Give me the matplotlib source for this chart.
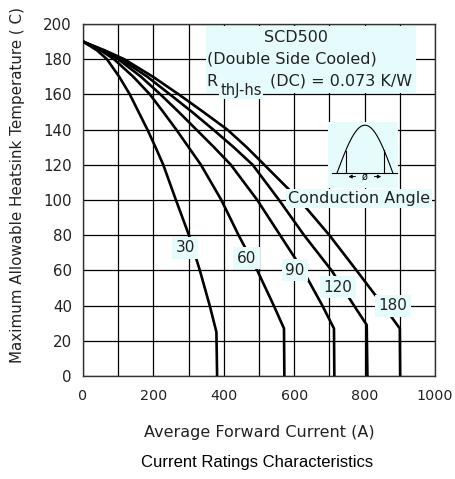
import numpy as np
import matplotlib.pyplot as plt
from matplotlib.patches import Rectangle

# Temperatura del disipador (C) para cada curva, y corriente media (A)
angles = ["30", "60", "90", "120", "180"]
temp_30 = [190, 185, 180, 170, 160, 150, 140, 130, 120, 100, 80, 60, 40, 25, 0]
curr_30 = [0, 40, 68, 103, 133, 158, 183, 206, 228, 264, 301, 332, 360, 379, 381]
temp_60 = [190, 185, 180, 170, 160, 150, 140, 130, 120, 100, 80, 60, 40, 27, 0]
curr_60 = [0, 50, 88, 143, 190, 228, 265, 300, 335, 393, 442, 495, 542, 571, 572]
temp_90 = [190, 185, 180, 170, 160, 150, 140, 130, 120, 100, 80, 60, 40, 27, 0]
curr_90 = [0, 55, 100, 165, 220, 272, 322, 372, 420, 495, 560, 625, 680, 713, 714]
temp_120 = [190, 185, 180, 170, 160, 150, 140, 130, 120, 100, 80, 60, 40, 29, 0]
curr_120 = [0, 58, 108, 183, 247, 310, 370, 428, 482, 557, 628, 706, 770, 806, 808]
temp_180 = [190, 185, 180, 170, 160, 150, 140, 130, 120, 100, 80, 60, 40, 27, 0]
curr_180 = [0, 62, 117, 199, 272, 342, 410, 465, 515, 615, 700, 777, 853, 900, 901]

# posiciones de las etiquetas de cada curva
label_x = [290, 465, 602, 725, 881]
label_y = [73, 67, 60, 50.5, 40]

x_ticks = [0, 200, 400, 600, 800, 1000]
y_ticks = [0, 20, 40, 60, 80, 100, 120, 140, 160, 180, 200]

cyan = '#e6fbfb'
fuente = 'DejaVu Sans'
gris = '#222222'

fig = plt.figure(figsize=(4.56, 4.79), dpi=100)
ax = fig.add_axes([83/456, 1 - 376/479, (435 - 83)/456, (376 - 24)/479])

ax.set_xlim(0, 1000)
ax.set_ylim(0, 200)
ax.set_xticks(np.arange(0, 1001, 100), minor=True)
ax.set_xticks(x_ticks)
ax.set_yticks(y_ticks)
ax.set_xticklabels([str(v) for v in x_ticks], fontsize=10.3, family=fuente, color=gris)
ax.set_yticklabels([str(v) for v in y_ticks], fontsize=10.8, family=fuente, color=gris)
ax.tick_params(which='both', length=0)
ax.tick_params(axis='x', pad=9)
ax.tick_params(axis='y', pad=8)
ax.grid(True, which='both', color='black', linewidth=0.9)
ax.set_axisbelow(True)
for s in ax.spines.values():
    s.set_linewidth(1.0)
    s.set_color('#333333')

curvas = [(curr_30, temp_30), (curr_60, temp_60), (curr_90, temp_90),
          (curr_120, temp_120), (curr_180, temp_180)]
for (xs, ys) in curvas:
    ax.plot(xs, ys, color='black', linewidth=1.9, zorder=3, solid_joinstyle='round')

for lab, lx, ly in zip(angles, label_x, label_y):
    ax.text(lx, ly, lab, fontsize=11, family=fuente, ha='center', va='center', zorder=5, color=gris,
            bbox=dict(facecolor=cyan, edgecolor='none', pad=2.5))

# caja de texto superior
ax.add_patch(Rectangle((349, 160.8), 597, 38.1, facecolor=cyan, edgecolor='none', zorder=4))
ax.text(605, 192.5, "SCD500", fontsize=11.5, family=fuente, ha='center', va='center', zorder=5, color=gris)
ax.text(351, 180, "(Double Side Cooled)", fontsize=11.5, family=fuente, ha='left', va='center', zorder=5, color=gris)
ax.text(351, 167.5, "R", fontsize=11.5, family=fuente, ha='left', va='center', zorder=5, color=gris)
ax.text(390, 162.5, "thJ-hs", fontsize=10.5, family=fuente, ha='left', va='center', zorder=5, color=gris,
        bbox=dict(facecolor=cyan, edgecolor='none', pad=1))
ax.text(530, 167.5, "(DC) = 0.073 K/W", fontsize=11.5, family=fuente, ha='left', va='center', zorder=5, color=gris)

# icono del angulo de conduccion
ax.add_patch(Rectangle((697, 106.8), 199, 37.7, facecolor=cyan, edgecolor='none', zorder=4))
t = np.linspace(0, np.pi, 60)
ax.plot(722 + 158 * t / np.pi, 115.5 + 27 * np.sin(t), color='black', linewidth=0.8, zorder=5)
ax.plot([706, 891], [115.5, 115.5], color='black', linewidth=0.8, zorder=5)
for cx in [746, 855]:
    ax.plot([cx, cx], [115.5, 115.5 + 27 * np.sin((cx - 722) / 158 * np.pi)], color='black', linewidth=0.8, zorder=5)
ax.annotate("", xy=(746, 113.3), xytext=(782, 113.3), zorder=5,
            arrowprops=dict(arrowstyle='-|>', color='black', lw=0.7, mutation_scale=5))
ax.annotate("", xy=(855, 113.3), xytext=(820, 113.3), zorder=5,
            arrowprops=dict(arrowstyle='-|>', color='black', lw=0.7, mutation_scale=5))
ax.text(801, 113.3, "ø", fontsize=7, family=fuente, ha='center', va='center', zorder=5)
ax.text(784, 101, "Conduction Angle", fontsize=11.5, family=fuente, ha='center', va='center', zorder=5,
        color=gris, bbox=dict(facecolor=cyan, edgecolor='none', pad=1.5))

ax.set_xlabel("Average Forward Current (A)", fontsize=11.5, family=fuente, color=gris, labelpad=16)
fig.text(18/456, 1 - 185/479, "Maximum Allowable Heatsink Temperature ( C)", rotation=90,
         fontsize=10.9, family=fuente, color=gris, ha='center', va='center')
fig.text(257/456, 1 - 463/479, "Current Ratings Characteristics", fontsize=12,
         family='Liberation Sans', ha='center', va='center')

fig.savefig("out.png", dpi=100)
